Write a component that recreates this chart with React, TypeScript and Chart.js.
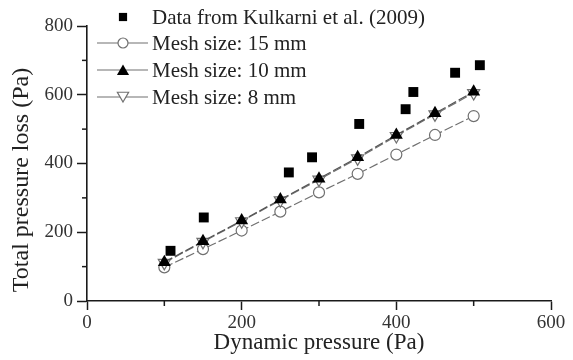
import React, { useEffect, useRef } from 'react';
import { Chart, registerables } from 'chart.js';

Chart.register(...registerables);

// ---- data ----
const kulkarniX = [108, 151, 261, 291, 352, 412, 422, 476, 508];
const kulkarniY = [146, 243, 374, 418, 515, 558, 608, 664, 686];
const meshX = [100, 150, 200, 250, 300, 350, 400, 450, 500];
const mesh15 = [98, 151, 205, 260, 316, 370, 426, 483, 538];
const mesh10 = [113, 174, 234, 295, 356, 418, 483, 546, 609];
const mesh8 = [111, 172, 232, 293, 353, 415, 480, 543, 605];
const xLabelled = [0, 200, 400, 600];
const yLabelled = [0, 200, 400, 600, 800];
const xMinor = [100, 300, 500];
const yMinor = [100, 300, 500, 700];
const legendLabels = [
  'Data from Kulkarni et al. (2009)',
  'Mesh size: 15 mm',
  'Mesh size: 10 mm',
  'Mesh size: 8 mm',
];
const xTitle = 'Dynamic pressure (Pa)';
const yTitle = 'Total pressure loss (Pa)';

const FONT = '"Liberation Serif", "Times New Roman", serif';
const AXIS = '#1a1a1a';
const GRAY = '#707070';

function drawMarker(ctx: CanvasRenderingContext2D, kind: string, x: number, y: number, r: number) {
  ctx.save();
  ctx.beginPath();
  if (kind === 'square') {
    const s = r * Math.SQRT1_2;
    ctx.rect(x - s, y - s, 2 * s, 2 * s);
    ctx.fillStyle = '#000';
    ctx.fill();
  } else if (kind === 'circle') {
    ctx.arc(x, y, r, 0, Math.PI * 2);
    ctx.fillStyle = '#fff';
    ctx.fill();
    ctx.strokeStyle = GRAY;
    ctx.lineWidth = 1.2;
    ctx.stroke();
  } else if (kind === 'up') {
    ctx.moveTo(x, y - r);
    ctx.lineTo(x + r * 0.866, y + r * 0.5);
    ctx.lineTo(x - r * 0.866, y + r * 0.5);
    ctx.closePath();
    ctx.fillStyle = '#000';
    ctx.fill();
  } else {
    ctx.moveTo(x, y + r);
    ctx.lineTo(x + r * 0.866, y - r * 0.5);
    ctx.lineTo(x - r * 0.866, y - r * 0.5);
    ctx.closePath();
    ctx.fillStyle = '#fff';
    ctx.fill();
    ctx.strokeStyle = GRAY;
    ctx.lineWidth = 1.2;
    ctx.stroke();
  }
  ctx.restore();
}

const extrasPlugin = {
  id: 'extras',
  afterDraw(chart: any) {
    const ctx: CanvasRenderingContext2D = chart.ctx;
    const xs = chart.scales.x;
    const ys = chart.scales.y;
    const area = chart.chartArea;
    ctx.save();
    // minor ticks
    ctx.strokeStyle = AXIS;
    ctx.lineWidth = 1.5;
    xMinor.forEach((v) => {
      const px = xs.getPixelForValue(v);
      ctx.beginPath();
      ctx.moveTo(px, area.bottom);
      ctx.lineTo(px, area.bottom + 5);
      ctx.stroke();
    });
    yMinor.forEach((v) => {
      const py = ys.getPixelForValue(v);
      ctx.beginPath();
      ctx.moveTo(area.left, py);
      ctx.lineTo(area.left - 5, py);
      ctx.stroke();
    });
    // y title
    ctx.fillStyle = '#222';
    ctx.font = `24px ${FONT}`;
    ctx.textAlign = 'center';
    ctx.textBaseline = 'middle';
    ctx.translate(22, 180);
    ctx.rotate(-Math.PI / 2);
    ctx.fillText(yTitle, 0, 0);
    ctx.restore();

    // legend
    ctx.save();
    const kinds = ['square', 'circle', 'up', 'down'];
    const rowY = [17, 43, 70, 97];
    const sizes = [5.8, 5, 7, 6.5];
    kinds.forEach((k, i) => {
      const y = rowY[i];
      if (i > 0) {
        ctx.strokeStyle = GRAY;
        ctx.lineWidth = 1.2;
        ctx.beginPath();
        ctx.moveTo(97, y);
        ctx.lineTo(148, y);
        ctx.stroke();
      }
      drawMarker(ctx, k, 123, k === 'up' ? y + 1.5 : k === 'down' ? y - 1.5 : y, sizes[i]);
      ctx.fillStyle = '#222';
      ctx.font = `21px ${FONT}`;
      ctx.textAlign = 'left';
      ctx.textBaseline = 'middle';
      ctx.fillText(legendLabels[i], 152, y + 1);
    });
    ctx.restore();
  },
};

export default function App() {
  const ref = useRef<HTMLCanvasElement | null>(null);
  useEffect(() => {
    if (!ref.current) return;
    const pts = (xs: number[], ys: number[]) => xs.map((x, i) => ({ x, y: ys[i] }));
    const chart = new Chart(ref.current, {
      type: 'scatter',
      data: {
        datasets: [
          {
            label: legendLabels[0],
            data: pts(kulkarniX, kulkarniY),
            pointStyle: 'rect',
            pointRadius: 7,
            backgroundColor: '#000',
            borderColor: '#000',
            borderWidth: 0,
            showLine: false,
          },
          {
            label: legendLabels[2],
            data: pts(meshX, mesh10),
            pointStyle: 'triangle',
            pointRadius: 7.5,
            backgroundColor: '#000',
            borderColor: '#555',
            pointBorderWidth: 0,
            showLine: true,
            borderWidth: 1.2,
            borderDash: [9, 3],
          } as any,
          {
            label: legendLabels[3],
            data: pts(meshX, mesh8),
            pointStyle: 'triangle',
            pointRotation: 180,
            pointRadius: 7,
            backgroundColor: '#fff',
            borderColor: GRAY,
            pointBorderWidth: 1.2,
            showLine: true,
            borderWidth: 1.2,
            borderDash: [9, 3],
          },
          {
            label: legendLabels[1],
            data: pts(meshX, mesh15),
            pointStyle: 'circle',
            pointRadius: 5.5,
            backgroundColor: '#fff',
            borderColor: GRAY,
            pointBorderWidth: 1.2,
            showLine: true,
            borderWidth: 1.2,
            borderDash: [9, 3],
          },
        ],
      },
      options: {
        responsive: false,
        animation: false,
        layout: { padding: { top: 26, right: 22, left: 0, bottom: 0 } },
        plugins: { legend: { display: false }, tooltip: { enabled: false } },
        scales: {
          x: {
            type: 'linear',
            min: 0,
            max: 600,
            afterFit: (s: any) => {
              s.height = 59;
            },
            ticks: {
              stepSize: 100,
              autoSkip: false,
              maxRotation: 0,
              padding: 2,
              color: '#333',
              font: { family: FONT, size: 19 },
              callback: (v: any) => (xLabelled.includes(Number(v)) ? String(v) : ''),
            },
            grid: {
              drawOnChartArea: false,
              drawTicks: true,
              tickLength: 9,
              tickWidth: 1.5,
              tickColor: (c: any) => (xLabelled.includes(c.tick?.value) ? AXIS : 'rgba(0,0,0,0)'),
            },
            border: { display: true, color: AXIS, width: 1.6 },
            title: {
              display: true,
              text: xTitle,
              color: '#222',
              font: { family: FONT, size: 23 },
              padding: { top: 0, bottom: 3 },
            },
          },
          y: {
            type: 'linear',
            min: 0,
            max: 800,
            afterFit: (s: any) => {
              s.width = 87;
            },
            ticks: {
              stepSize: 100,
              autoSkip: false,
              padding: 4,
              color: '#333',
              font: { family: FONT, size: 19 },
              callback: (v: any) => (yLabelled.includes(Number(v)) ? String(v) : ''),
            },
            grid: {
              drawOnChartArea: false,
              drawTicks: true,
              tickLength: 10,
              tickWidth: 1.5,
              tickColor: (c: any) => (yLabelled.includes(c.tick?.value) ? AXIS : 'rgba(0,0,0,0)'),
            },
            border: { display: true, color: AXIS, width: 1.6 },
            title: { display: false },
          },
        },
      },
      plugins: [extrasPlugin],
    });
    return () => chart.destroy();
  }, []);
  return (
    <div style={{ position: 'absolute', left: 0, top: 0, width: 573, height: 360, background: '#fff' }}>
      <canvas ref={ref} width={573} height={360} style={{ display: 'block' }} />
    </div>
  );
}
